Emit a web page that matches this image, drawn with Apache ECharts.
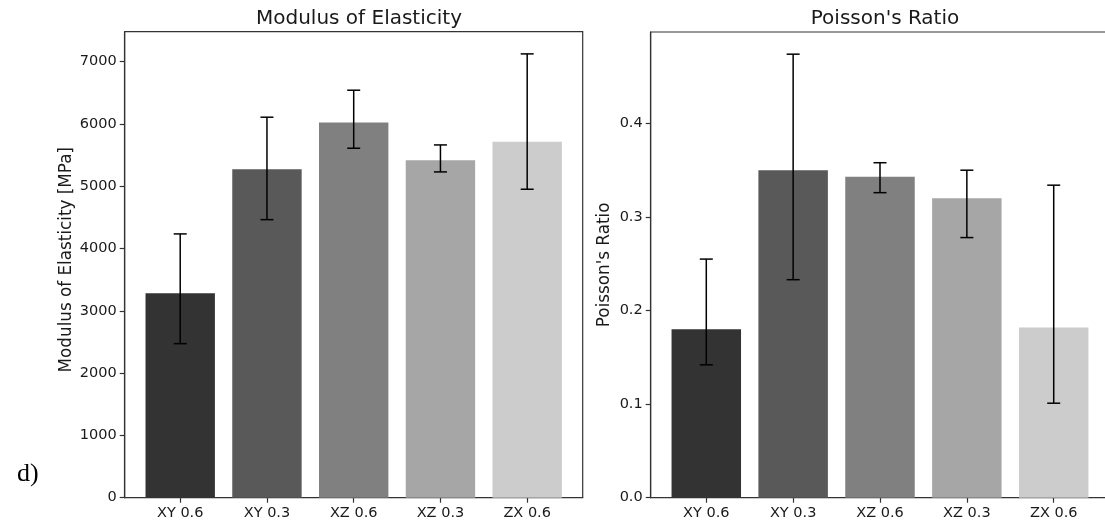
<!DOCTYPE html>
<html>
<head>
<meta charset="utf-8">
<script src="https://cdn.jsdelivr.net/npm/echarts@6/dist/echarts.min.js"></script>
<style>
    html, body {margin:0;padding:0;background:#ffffff;}
    #chart {width:1105px;height:526px;}
</style>
</head>
<body>
<div id="chart"></div>
<script>
    // categories and values
    var categories = ['XY 0.6', 'XY 0.3', 'XZ 0.6', 'XZ 0.3', 'ZX 0.6'];

    var modulusMean  = [3281, 5271, 6019, 5416, 5714];
    var modulusUpper = [4233, 6106, 6539, 5661, 7122];
    var modulusLower = [2472, 4462, 5608, 5228, 4950];

    var poissonMean  = [0.180, 0.350, 0.343, 0.320, 0.182];
    var poissonUpper = [0.255, 0.474, 0.358, 0.350, 0.334];
    var poissonLower = [0.142, 0.233, 0.326, 0.278, 0.101];

    var modulusTicks = [0, 1000, 2000, 3000, 4000, 5000, 6000, 7000];
    var poissonTicks = [0, 0.1, 0.2, 0.3, 0.4];
    var catTicks = [0, 1, 2, 3, 4];

    var barColors = ['#333333', '#595959', '#808080', '#a6a6a6', '#cccccc'];
    var font = 'DejaVu Sans';
    var textColor = '#1a1a1a';

    var myChart = echarts.init(document.getElementById('chart'), null, {renderer: 'canvas'});

    function barItem(params, api) {
        var x = api.value(0), v = api.value(1);
        var p0 = api.coord([x - 0.4, v]);
        var p1 = api.coord([x + 0.4, 0]);
        return {
            type: 'rect',
            shape: {x: p0[0], y: p0[1], width: p1[0] - p0[0], height: p1[1] - p0[1]},
            style: {fill: barColors[params.dataIndex]}
        };
    }

    function errItem(params, api) {
        var x = api.value(0);
        var lo = api.coord([x, api.value(1)]);
        var hi = api.coord([x, api.value(2)]);
        var cap = 6.5;
        var st = {stroke: '#000000', lineWidth: 1.5};
        return {
            type: 'group',
            children: [
                {type: 'line', shape: {x1: lo[0], y1: lo[1], x2: hi[0], y2: hi[1]}, style: st},
                {type: 'line', shape: {x1: lo[0] - cap, y1: lo[1], x2: lo[0] + cap, y2: lo[1]}, style: st},
                {type: 'line', shape: {x1: hi[0] - cap, y1: hi[1], x2: hi[0] + cap, y2: hi[1]}, style: st}
            ]
        };
    }

    function xAxisFor(gridIndex) {
        return {
            type: 'value', gridIndex: gridIndex, min: -0.64, max: 4.64,
            splitLine: {show: false},
            axisLine: {show: true, onZero: false, lineStyle: {color: '#333333', width: 1.2}},
            axisTick: {show: true, length: 5, customValues: catTicks, lineStyle: {color: '#333333', width: 1.2}},
            axisLabel: {
                customValues: catTicks, margin: 8, color: textColor, fontFamily: font, fontSize: 14.5,
                formatter: function (v) { return categories[Math.round(v)]; }
            }
        };
    }

    function yAxisFor(gridIndex, max, ticks, name, nameGap, namePad, fmt) {
        return {
            type: 'value', gridIndex: gridIndex, min: 0, max: max,
            name: name, nameLocation: 'middle', nameGap: nameGap, nameRotate: 90,
            nameTextStyle: {color: textColor, fontFamily: font, fontSize: 16.8, padding: namePad},
            splitLine: {show: false},
            axisLine: {show: true, onZero: false, lineStyle: {color: '#333333', width: 1.2}},
            axisTick: {show: true, length: 5, customValues: ticks, lineStyle: {color: '#333333', width: 1.2}},
            axisLabel: {customValues: ticks, margin: 8, color: textColor, fontFamily: font, fontSize: 14.5, formatter: fmt}
        };
    }

    function toSeries(mean) {
        return mean.map(function (v, i) { return [i, v]; });
    }
    function toErr(lower, upper) {
        return lower.map(function (v, i) { return [i, v, upper[i]]; });
    }

    var option = {
        backgroundColor: '#ffffff',
        animation: false,
        title: [
            {text: 'Modulus of Elasticity', left: 354, top: 4, textAlign: 'center',
             textStyle: {color: textColor, fontFamily: font, fontSize: 20, fontWeight: 'normal'}},
            {text: "Poisson's Ratio", left: 880, top: 4, textAlign: 'center',
             textStyle: {color: textColor, fontFamily: font, fontSize: 20, fontWeight: 'normal'}},
            {text: 'd)', left: 12, top: 456,
             textStyle: {color: '#000000', fontFamily: 'Liberation Serif', fontSize: 26, fontWeight: 'normal'}}
        ],
        grid: [
            {left: 124.7, top: 31.7, width: 458, height: 466, outerBoundsMode: 'none',
             show: true, borderColor: '#333333', borderWidth: 1.2},
            {left: 650.7, top: 32, width: 458.6, height: 465.7, outerBoundsMode: 'none',
             show: true, borderColor: '#333333', borderWidth: 1.2}
        ],
        xAxis: [xAxisFor(0), xAxisFor(1)],
        yAxis: [
            yAxisFor(0, 7478, modulusTicks, 'Modulus of Elasticity [MPa]', 50, [0, 0, 0, 10], function (v) { return String(v); }),
            yAxisFor(1, 0.4977, poissonTicks, "Poisson's Ratio", 38, 0, function (v) { return v.toFixed(1); })
        ],
        series: [
            {type: 'custom', xAxisIndex: 0, yAxisIndex: 0, renderItem: barItem, data: toSeries(modulusMean)},
            {type: 'custom', xAxisIndex: 0, yAxisIndex: 0, renderItem: errItem, data: toErr(modulusLower, modulusUpper)},
            {type: 'custom', xAxisIndex: 1, yAxisIndex: 1, renderItem: barItem, data: toSeries(poissonMean)},
            {type: 'custom', xAxisIndex: 1, yAxisIndex: 1, renderItem: errItem, data: toErr(poissonLower, poissonUpper)}
        ]
    };

    if (option && typeof option === "object") {
        myChart.setOption(option, true);
    }
</script>
</body>
</html>
